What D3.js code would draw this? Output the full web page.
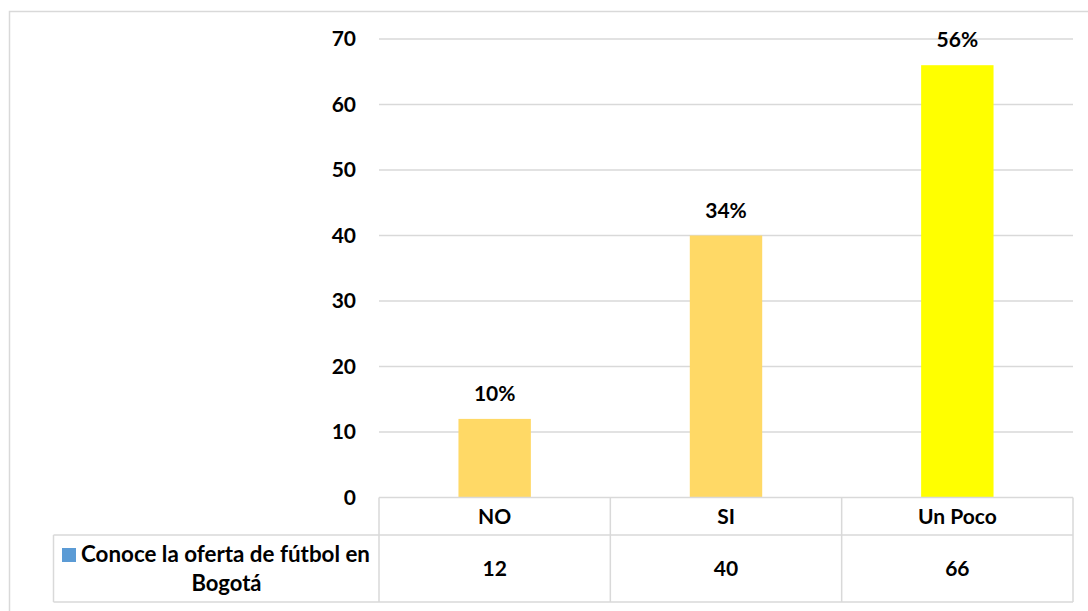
<!DOCTYPE html>
<html>
<head>
<meta charset="utf-8">
<script src="https://cdn.jsdelivr.net/npm/d3@7"></script>
<style>
  html, body { margin: 0; padding: 0; background: #fff; }
  svg { display: block; }
  text { font-family: Lato, "Open Sans", sans-serif; font-weight: bold; fill: #000; }
</style>
</head>
<body>
<svg id="chart" width="1088" height="611"></svg>
<script>
// Survey answers: "Conoce la oferta de fútbol en Bogotá"
const categories = ["NO", "SI", "Un Poco"];
const counts = [12, 40, 66];
const percentLabels = ["10%", "34%", "56%"];
const barColors = ["#FFD966", "#FFD966", "#FFFF00"];
const seriesName = ["Conoce la oferta de fútbol en", "Bogotá"];
const yTicks = [0, 10, 20, 30, 40, 50, 60, 70];

const svg = d3.select("#chart");
const W = 1088, H = 611;
const FS = "21px";

// outer chart frame (extends past the right and bottom edges)
svg.append("rect")
  .attr("x", 9.5).attr("y", 11.5)
  .attr("width", W).attr("height", H)
  .attr("fill", "none").attr("stroke", "#D9D9D9").attr("stroke-width", 1.5);

const plot = { left: 379, right: 1073, top: 39, bottom: 497.5 };

const x = d3.scaleBand()
  .domain(categories)
  .range([plot.left, plot.right])
  .paddingInner(0)
  .paddingOuter(0);

const y = d3.scaleLinear()
  .domain([0, 70])
  .range([plot.bottom, plot.top]);

// horizontal gridlines
svg.append("g")
  .selectAll("line")
  .data(yTicks.filter(d => d > 0))
  .join("line")
  .attr("x1", plot.left).attr("x2", plot.right)
  .attr("y1", d => y(d)).attr("y2", d => y(d))
  .attr("stroke", "#D9D9D9").attr("stroke-width", 1.5);

// y axis labels
const yAxis = d3.axisLeft(y).tickValues(yTicks).tickSize(0).tickPadding(23);
const gy = svg.append("g")
  .attr("transform", `translate(${plot.left},0)`)
  .call(yAxis);
gy.select(".domain").remove();
gy.selectAll("text")
  .style("font-size", FS)
  .style("font-family", "Lato, sans-serif")
  .style("font-weight", "bold")
  .attr("fill", "#000");

// bars
const barW = x.bandwidth() * 0.313;
svg.append("g")
  .selectAll("rect")
  .data(categories)
  .join("rect")
  .attr("x", d => x(d) + (x.bandwidth() - barW) / 2)
  .attr("width", barW)
  .attr("y", (d, i) => y(counts[i]))
  .attr("height", (d, i) => y(0) - y(counts[i]))
  .attr("fill", (d, i) => barColors[i]);

// percentage labels above bars
svg.append("g")
  .selectAll("text")
  .data(categories)
  .join("text")
  .attr("x", d => x(d) + x.bandwidth() / 2)
  .attr("y", (d, i) => y(counts[i]) - 18)
  .attr("text-anchor", "middle")
  .style("font-size", FS)
  .text((d, i) => percentLabels[i]);

// data table below the plot
const row1Bottom = 535, row2Bottom = 602, legendLeft = 53.5;
const grid = svg.append("g")
  .attr("stroke", "#D9D9D9").attr("stroke-width", 1.5).attr("fill", "none");
grid.append("line").attr("x1", plot.left).attr("x2", plot.right).attr("y1", plot.bottom).attr("y2", plot.bottom);
grid.append("line").attr("x1", legendLeft).attr("x2", plot.right).attr("y1", row1Bottom).attr("y2", row1Bottom);
grid.append("line").attr("x1", legendLeft).attr("x2", plot.right).attr("y1", row2Bottom).attr("y2", row2Bottom);
grid.append("line").attr("x1", legendLeft).attr("x2", legendLeft).attr("y1", row1Bottom).attr("y2", row2Bottom);
grid.selectAll("line.col")
  .data(categories.map(c => x(c)).concat([plot.right]))
  .join("line")
  .attr("class", "col")
  .attr("x1", d => d).attr("x2", d => d)
  .attr("y1", plot.bottom).attr("y2", row2Bottom);

// category names
svg.append("g")
  .selectAll("text")
  .data(categories)
  .join("text")
  .attr("x", d => x(d) + x.bandwidth() / 2)
  .attr("y", (plot.bottom + row1Bottom) / 2 + 7.5)
  .attr("text-anchor", "middle")
  .style("font-size", FS)
  .text(d => d);

// values row
svg.append("g")
  .selectAll("text")
  .data(categories)
  .join("text")
  .attr("x", d => x(d) + x.bandwidth() / 2)
  .attr("y", (row1Bottom + row2Bottom) / 2 + 7.5)
  .attr("text-anchor", "middle")
  .style("font-size", FS)
  .text((d, i) => counts[i]);

// series legend key + name
svg.append("rect")
  .attr("x", 62).attr("y", 548)
  .attr("width", 14).attr("height", 14)
  .attr("fill", "#5B9BD5");
svg.append("text")
  .attr("x", 81).attr("y", 562)
  .style("font-size", "22px")
  .attr("textLength", 289)
  .attr("lengthAdjust", "spacingAndGlyphs")
  .text(seriesName[0]);
svg.append("text")
  .attr("x", 226.5).attr("y", 591)
  .attr("text-anchor", "middle")
  .style("font-size", "22px")
  .text(seriesName[1]);
</script>
</body>
</html>
